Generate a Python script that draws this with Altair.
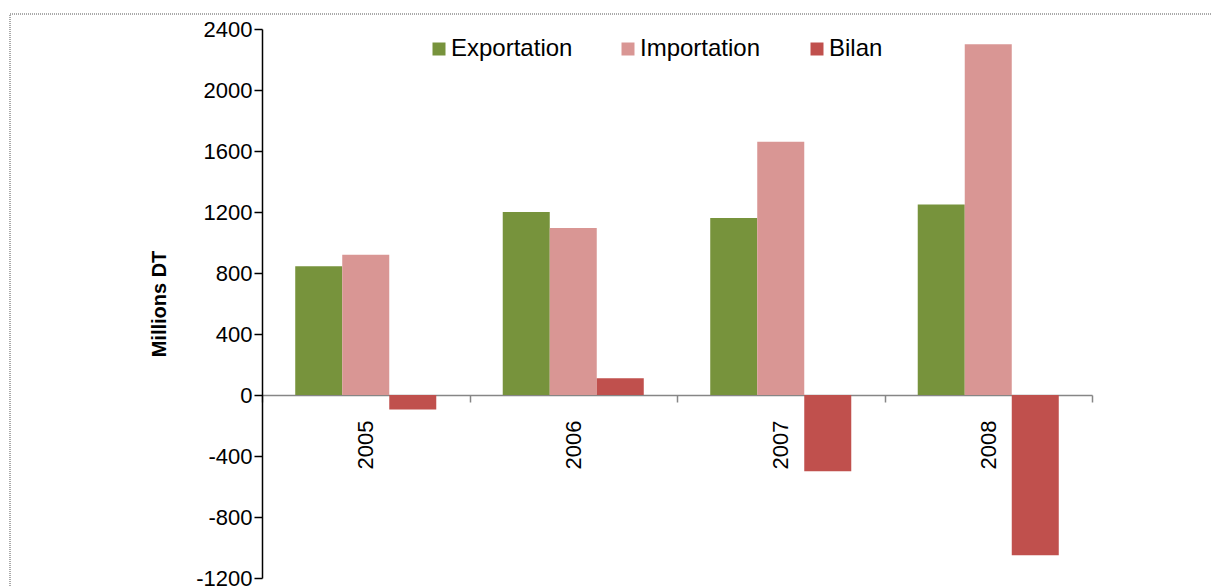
import altair as alt
import pandas as pd

years = ["2005", "2006", "2007", "2008"]
series = ["Exportation", "Importation", "Bilan"]
exportation = [845, 1200, 1160, 1250]
importation = [920, 1095, 1660, 2300]
bilan = [-95, 110, -500, -1050]
colors = ["#77933C", "#D99694", "#C0504D"]
y_ticks = [-1200, -800, -400, 0, 400, 800, 1200, 1600, 2000, 2400]

rows = []
for i, yr in enumerate(years):
    for s, vals in zip(series, [exportation, importation, bilan]):
        rows.append({"Année": yr, "Série": s, "Valeur": vals[i]})
df = pd.DataFrame(rows)

W, H = 830, 549
zero_from_bottom = H * 1200 / 3600

bars = alt.Chart(df).mark_bar().encode(
    x=alt.X("Année:N", sort=years,
            scale=alt.Scale(paddingInner=0, paddingOuter=0),
            axis=alt.Axis(title=None, labelAngle=-90, tickBand="extent",
                          offset=-zero_from_bottom, domainColor="#868686",
                          domainWidth=1.5, tickColor="#868686", tickWidth=1.5,
                          tickSize=7, labelPadding=18, labelFontSize=22,
                          labelColor="#000000")),
    xOffset=alt.XOffset("Série:N", sort=series,
                        scale=alt.Scale(paddingInner=0, paddingOuter=0.707)),
    y=alt.Y("Valeur:Q", scale=alt.Scale(domain=[-1200, 2400], nice=False),
            axis=alt.Axis(title="Millions DT", values=y_ticks, grid=False,
                          labelExpr="datum.value + ''", domainColor="#000000",
                          domainWidth=1.5, tickColor="#000000", tickWidth=1.5,
                          tickSize=8, labelPadding=2, labelFontSize=22,
                          labelColor="#000000", titleFontSize=20,
                          titleFontWeight="bold", titleColor="#000000",
                          titlePadding=26)),
    color=alt.Color("Série:N", sort=series,
                    scale=alt.Scale(domain=series, range=colors),
                    legend=alt.Legend(title=None, orient="none", legendX=165,
                                      legendY=8, direction="horizontal",
                                      gridAlign="all", columnPadding=43,
                                      symbolType="square", symbolSize=169,
                                      symbolStrokeWidth=0, labelOffset=0,
                                      labelFontSize=24, labelColor="#000000")),
)

frame = alt.Chart(pd.DataFrame({"a": [0]})).mark_rect(
    fill=None, stroke="#555555", strokeWidth=1, strokeDash=[1, 1]
).encode(x=alt.value(-252), x2=alt.value(W + 200),
         y=alt.value(-15), y2=alt.value(H + 60))

chart = alt.layer(bars, frame).properties(
    width=W, height=H,
    padding={"left": 254, "top": 21, "right": 120, "bottom": 8},
    autosize=alt.AutoSizeParams(type="none"),
).configure(font="Liberation Sans").configure_view(stroke=None)

chart.save("out.html", embed_options={"renderer": "svg", "actions": False})
